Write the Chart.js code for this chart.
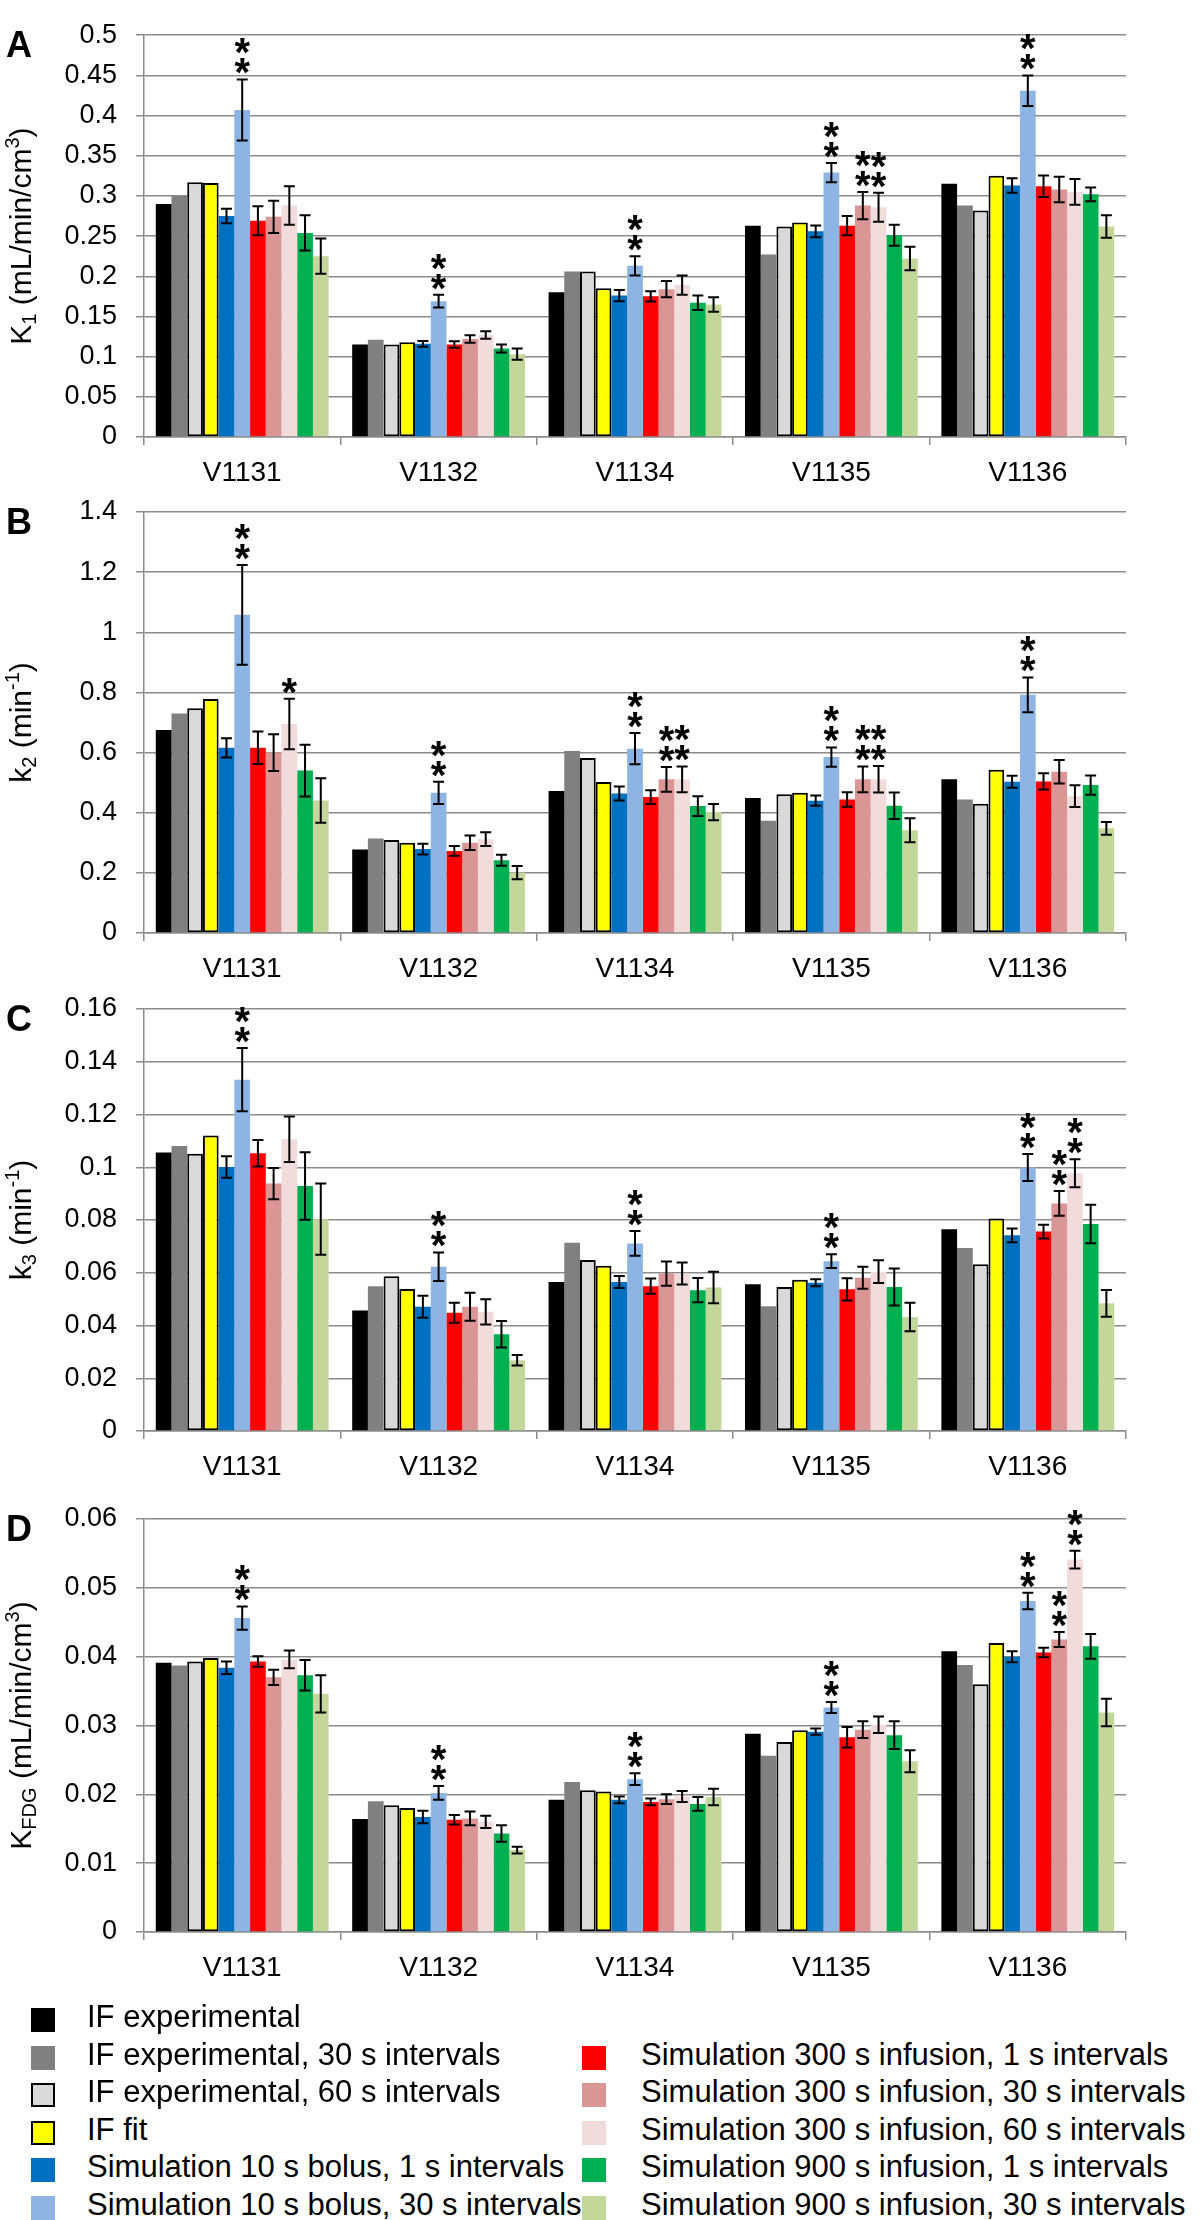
<!DOCTYPE html>
<html>
<head>
<meta charset="utf-8">
<script src="https://cdn.jsdelivr.net/npm/chart.js@4.4.1/dist/chart.umd.min.js"></script>
<style>
  body { margin: 0; background: #fff; }
  #page { position: relative; width: 1200px; height: 2220px; overflow: hidden; background: #fff;
          font-family: 'Liberation Sans', Arial, sans-serif; }
  .panel { position: absolute; left: 0; width: 1200px; }
  .legend-item { position: absolute; height: 36px; line-height: 36px; font-size: 31px; white-space: nowrap; color: #000; }
  .swatch { position: absolute; width: 24px; height: 24px; box-sizing: border-box; }
</style>
</head>
<body>
<div id="page">
  <div class="panel" style="top:0px;height:507px"><canvas id="chartA" width="1200" height="507"></canvas></div>
  <div class="panel" style="top:470px;height:533px"><canvas id="chartB" width="1200" height="533"></canvas></div>
  <div class="panel" style="top:960px;height:541px"><canvas id="chartC" width="1200" height="541"></canvas></div>
  <div class="panel" style="top:1450px;height:552px"><canvas id="chartD" width="1200" height="552"></canvas></div>
  <div id="legend"></div>
</div>
<script>
// categories and series
const categories = ['V1131', 'V1132', 'V1134', 'V1135', 'V1136'];
const seriesNames = [
  'IF experimental',
  'IF experimental, 30 s intervals',
  'IF experimental, 60 s intervals',
  'IF fit',
  'Simulation 10 s bolus, 1 s intervals',
  'Simulation 10 s bolus, 30 s intervals',
  'Simulation 300 s infusion, 1 s intervals',
  'Simulation 300 s infusion, 30 s intervals',
  'Simulation 300 s infusion, 60 s intervals',
  'Simulation 900 s infusion, 1 s intervals',
  'Simulation 900 s infusion, 30 s intervals'
];
const seriesColors = ['#000000', '#808080', '#d9d9d9', '#ffff00', '#0070c0', '#8db4e2',
                      '#ff0000', '#da9694', '#f2dcdb', '#00b050', '#c4d79b'];
const outlined = [false, false, true, true, false, false, false, false, false, false, false];

// Panel A: K1 (one row per series, one value per category)
const k1Values = [
  [0.290, 0.115, 0.180, 0.263, 0.315],
  [0.300, 0.121, 0.206, 0.227, 0.288],
  [0.317, 0.115, 0.206, 0.262, 0.282],
  [0.316, 0.118, 0.185, 0.267, 0.325],
  [0.275, 0.116, 0.176, 0.256, 0.313],
  [0.407, 0.169, 0.213, 0.329, 0.431],
  [0.269, 0.115, 0.175, 0.263, 0.312],
  [0.274, 0.122, 0.184, 0.288, 0.308],
  [0.288, 0.127, 0.189, 0.286, 0.305],
  [0.254, 0.110, 0.167, 0.251, 0.302],
  [0.225, 0.103, 0.165, 0.222, 0.262]
];
const k1Errors = [null, null, null, null,
  [0.009, 0.0036, 0.007, 0.0073, 0.009],
  [0.038, 0.008, 0.012, 0.012, 0.019],
  [0.018, 0.004, 0.0065, 0.012, 0.0134],
  [0.020, 0.0047, 0.010, 0.017, 0.016],
  [0.024, 0.0047, 0.012, 0.018, 0.016],
  [0.022, 0.005, 0.009, 0.013, 0.0085],
  [0.022, 0.007, 0.009, 0.0146, 0.014]
];
// [series, category, number of asterisks]
const k1Stars = [[5, 0, 2], [5, 1, 2], [5, 2, 2], [5, 3, 2], [7, 3, 2], [8, 3, 2], [5, 4, 2]];
const k1Ticks = [0, 0.05, 0.1, 0.15, 0.2, 0.25, 0.3, 0.35, 0.4, 0.45, 0.5];

// Panel B: k2
const k2Values = [
  [0.675, 0.278, 0.472, 0.449, 0.511],
  [0.730, 0.314, 0.605, 0.373, 0.444],
  [0.747, 0.309, 0.582, 0.461, 0.430],
  [0.778, 0.300, 0.502, 0.466, 0.543],
  [0.616, 0.279, 0.464, 0.440, 0.503],
  [1.058, 0.466, 0.613, 0.585, 0.792],
  [0.616, 0.273, 0.452, 0.444, 0.504],
  [0.600, 0.300, 0.511, 0.511, 0.536],
  [0.695, 0.312, 0.511, 0.511, 0.455],
  [0.540, 0.242, 0.422, 0.423, 0.492],
  [0.441, 0.201, 0.402, 0.342, 0.348]
];
const k2Errors = [null, null, null, null,
  [0.032, 0.018, 0.023, 0.017, 0.020],
  [0.166, 0.037, 0.052, 0.032, 0.058],
  [0.054, 0.016, 0.023, 0.024, 0.027],
  [0.061, 0.024, 0.041, 0.043, 0.039],
  [0.084, 0.023, 0.043, 0.044, 0.036],
  [0.086, 0.018, 0.033, 0.044, 0.032],
  [0.074, 0.022, 0.027, 0.040, 0.021]
];
const k2Stars = [[5, 0, 2], [8, 0, 1], [5, 1, 2], [5, 2, 2], [7, 2, 2], [8, 2, 2],
                 [5, 3, 2], [7, 3, 2], [8, 3, 2], [5, 4, 2]];
const k2Ticks = [0, 0.2, 0.4, 0.6, 0.8, 1, 1.2, 1.4];

// Panel C: k3
const k3Values = [
  [0.1056, 0.0457, 0.0565, 0.0556, 0.0765],
  [0.1081, 0.0549, 0.0714, 0.0473, 0.0694],
  [0.1051, 0.0587, 0.0648, 0.0546, 0.0632],
  [0.1120, 0.0538, 0.0627, 0.0573, 0.0806],
  [0.1001, 0.0471, 0.0565, 0.0562, 0.0742],
  [0.1332, 0.0623, 0.0711, 0.0644, 0.0999],
  [0.1053, 0.0448, 0.0549, 0.0537, 0.0756],
  [0.0938, 0.0471, 0.0597, 0.0581, 0.0863],
  [0.1106, 0.0452, 0.0597, 0.0604, 0.0977],
  [0.0929, 0.0367, 0.0534, 0.0546, 0.0785],
  [0.0803, 0.0268, 0.0544, 0.0432, 0.0484]
];
const k3Errors = [null, null, null, null,
  [0.0041, 0.0042, 0.0023, 0.0013, 0.0026],
  [0.012, 0.0054, 0.0047, 0.0026, 0.0051],
  [0.005, 0.0038, 0.0029, 0.0042, 0.0026],
  [0.0059, 0.0053, 0.0046, 0.0042, 0.0047],
  [0.0086, 0.0048, 0.0042, 0.0043, 0.0053],
  [0.0128, 0.005, 0.0046, 0.007, 0.0073],
  [0.0135, 0.002, 0.006, 0.0054, 0.0051]
];
const k3Stars = [[5, 0, 2], [5, 1, 2], [5, 2, 2], [5, 3, 2], [5, 4, 2], [7, 4, 2], [8, 4, 2]];
const k3Ticks = [0, 0.02, 0.04, 0.06, 0.08, 0.1, 0.12, 0.14, 0.16];

// Panel D: KFDG
const kfdgValues = [
  [0.0391, 0.0164, 0.0192, 0.0288, 0.0408],
  [0.0387, 0.0190, 0.0218, 0.0256, 0.0388],
  [0.0393, 0.0184, 0.0206, 0.0276, 0.0360],
  [0.0398, 0.0180, 0.0204, 0.0293, 0.0420],
  [0.0384, 0.0167, 0.0192, 0.0291, 0.0400],
  [0.0456, 0.0202, 0.0222, 0.0326, 0.0481],
  [0.0393, 0.0163, 0.0189, 0.0283, 0.0406],
  [0.0370, 0.0165, 0.0193, 0.0294, 0.0425],
  [0.0396, 0.0160, 0.0197, 0.0301, 0.0541],
  [0.0373, 0.0143, 0.0186, 0.0286, 0.0415],
  [0.0346, 0.0119, 0.0196, 0.0248, 0.0319]
];
const kfdgErrors = [null, null, null, null,
  [0.0009, 0.0009, 0.0005, 0.00045, 0.0008],
  [0.0017, 0.001, 0.00085, 0.0008, 0.0012],
  [0.00075, 0.0007, 0.0005, 0.0015, 0.0007],
  [0.0011, 0.001, 0.0007, 0.0012, 0.0011],
  [0.0013, 0.0009, 0.0008, 0.0012, 0.0013],
  [0.0022, 0.0012, 0.001, 0.002, 0.0018],
  [0.0027, 0.0005, 0.0012, 0.0016, 0.002]
];
const kfdgStars = [[5, 0, 2], [5, 1, 2], [5, 2, 2], [5, 3, 2], [5, 4, 2], [7, 4, 2], [8, 4, 2]];
const kfdgTicks = [0, 0.01, 0.02, 0.03, 0.04, 0.05, 0.06];

const FONT = "'Liberation Sans', Arial, sans-serif";
const GRID = '#8c8c8c';

// error bars, asterisks, rotated axis title with sub/superscripts, panel letter
const extrasPlugin = {
  id: 'extras',
  afterDatasetsDraw(chart, args, opts) {
    const ctx = chart.ctx;
    const yScale = chart.scales.y;
    const area = chart.chartArea;
    ctx.save();

    ctx.strokeStyle = '#000';
    ctx.lineWidth = 2;
    opts.errors.forEach((errs, si) => {
      if (!errs) return;
      const meta = chart.getDatasetMeta(si);
      errs.forEach((e, ci) => {
        const v = chart.data.datasets[si].data[ci];
        const x = meta.data[ci].x;
        const yTop = yScale.getPixelForValue(v + e);
        const yBot = yScale.getPixelForValue(v - e);
        ctx.beginPath();
        ctx.moveTo(x, yTop); ctx.lineTo(x, yBot);
        ctx.moveTo(x - 5.5, yTop); ctx.lineTo(x + 5.5, yTop);
        ctx.moveTo(x - 5.5, yBot); ctx.lineTo(x + 5.5, yBot);
        ctx.stroke();
      });
    });

    ctx.fillStyle = '#000';
    ctx.font = 'bold 40px ' + FONT;
    ctx.textAlign = 'center';
    ctx.textBaseline = 'alphabetic';
    const m = ctx.measureText('*');
    const shift = (m.actualBoundingBoxAscent - m.actualBoundingBoxDescent) / 2;
    opts.stars.forEach(([si, ci, n]) => {
      const v = chart.data.datasets[si].data[ci];
      const e = opts.errors[si] ? opts.errors[si][ci] : 0;
      const x = chart.getDatasetMeta(si).data[ci].x;
      const base = yScale.getPixelForValue(v + e) - 13;
      for (let k = 0; k < n; k++) {
        ctx.fillText('*', x, base - k * 20 + shift);
      }
    });

    // axis title
    const big = 30, small = 20;
    const parts = opts.title.map(([t, kind]) => ({ t, kind, font: (kind ? small : big) + 'px ' + FONT }));
    let total = 0;
    parts.forEach(p => { ctx.font = p.font; p.w = ctx.measureText(p.t).width; total += p.w; });
    ctx.translate(20, (area.top + area.bottom) / 2);
    ctx.rotate(-Math.PI / 2);
    ctx.textAlign = 'left';
    let cx = -total / 2;
    parts.forEach(p => {
      ctx.font = p.font;
      let dy = 11;
      if (p.kind === 'sub') dy += 5;
      if (p.kind === 'sup') dy -= 12;
      ctx.fillText(p.t, cx, dy);
      cx += p.w;
    });
    ctx.setTransform(1, 0, 0, 1, 0, 0);

    // panel letter
    ctx.font = 'bold 36px ' + FONT;
    ctx.textAlign = 'left';
    ctx.fillText(opts.letter, 6, area.top + 22);
    ctx.restore();
  }
};

function makePanel(id, values, errors, stars, ticks, title, letter, padTop) {
  new Chart(document.getElementById(id), {
    type: 'bar',
    data: {
      labels: categories,
      datasets: seriesNames.map((name, i) => ({
        label: name,
        data: values[i],
        backgroundColor: seriesColors[i],
        borderColor: '#000000',
        borderWidth: outlined[i] ? 2 : 0,
        borderSkipped: false,
        categoryPercentage: 0.88,
        barPercentage: 1.0
      }))
    },
    options: {
      responsive: false,
      animation: false,
      layout: { padding: { top: padTop, right: 74, left: 0, bottom: 0 } },
      plugins: {
        legend: { display: false },
        tooltip: { enabled: false },
        extras: { errors, stars, title, letter }
      },
      scales: {
        x: {
          offset: true,
          grid: { display: true, drawOnChartArea: false, drawTicks: true, tickLength: 8, color: GRID, lineWidth: 1.5, offset: true },
          border: { display: true, color: GRID, width: 1.5 },
          ticks: { color: '#000', font: { size: 28, family: FONT }, padding: 11, maxRotation: 0 },
          afterFit: (s) => { s.height = 70; }
        },
        y: {
          min: ticks[0],
          max: ticks[ticks.length - 1],
          afterBuildTicks: (s) => { s.ticks = ticks.map(v => ({ value: v })); },
          grid: { color: GRID, lineWidth: 1.5, drawTicks: true, tickLength: 8 },
          border: { display: true, color: GRID, width: 1.5 },
          ticks: { color: '#000', font: { size: 27, family: FONT }, padding: 19, callback: (v) => String(v) },
          afterFit: (s) => { s.width = 144; }
        }
      }
    },
    plugins: [extrasPlugin]
  });
}

makePanel('chartA', k1Values, k1Errors, k1Stars, k1Ticks,
  [['K', ''], ['1', 'sub'], [' (mL/min/cm', ''], ['3', 'sup'], [')', '']], 'A', 16);
makePanel('chartB', k2Values, k2Errors, k2Stars, k2Ticks,
  [['k', ''], ['2', 'sub'], [' (min', ''], ['-1', 'sup'], [')', '']], 'B', 42);
makePanel('chartC', k3Values, k3Errors, k3Stars, k3Ticks,
  [['k', ''], ['3', 'sub'], [' (min', ''], ['-1', 'sup'], [')', '']], 'C', 49);
makePanel('chartD', kfdgValues, kfdgErrors, kfdgStars, kfdgTicks,
  [['K', ''], ['FDG', 'sub'], [' (mL/min/cm', ''], ['3', 'sup'], [')', '']], 'D', 69);

// legend: two columns, the second starts one row lower
const legend = document.getElementById('legend');
seriesNames.forEach((name, i) => {
  const col = i < 6 ? 0 : 1;
  const row = col === 0 ? i : i - 5;
  const cy = 2020 + row * 37.6;
  const sw = document.createElement('div');
  sw.className = 'swatch';
  sw.style.left = (col === 0 ? 31 : 582) + 'px';
  sw.style.top = (cy - 12) + 'px';
  sw.style.background = seriesColors[i];
  if (outlined[i]) sw.style.border = '2px solid #000';
  legend.appendChild(sw);
  const item = document.createElement('div');
  item.className = 'legend-item';
  item.style.left = (col === 0 ? 87 : 641) + 'px';
  item.style.top = (cy - 21) + 'px';
  item.textContent = name;
  legend.appendChild(item);
});
</script>
</body>
</html>
